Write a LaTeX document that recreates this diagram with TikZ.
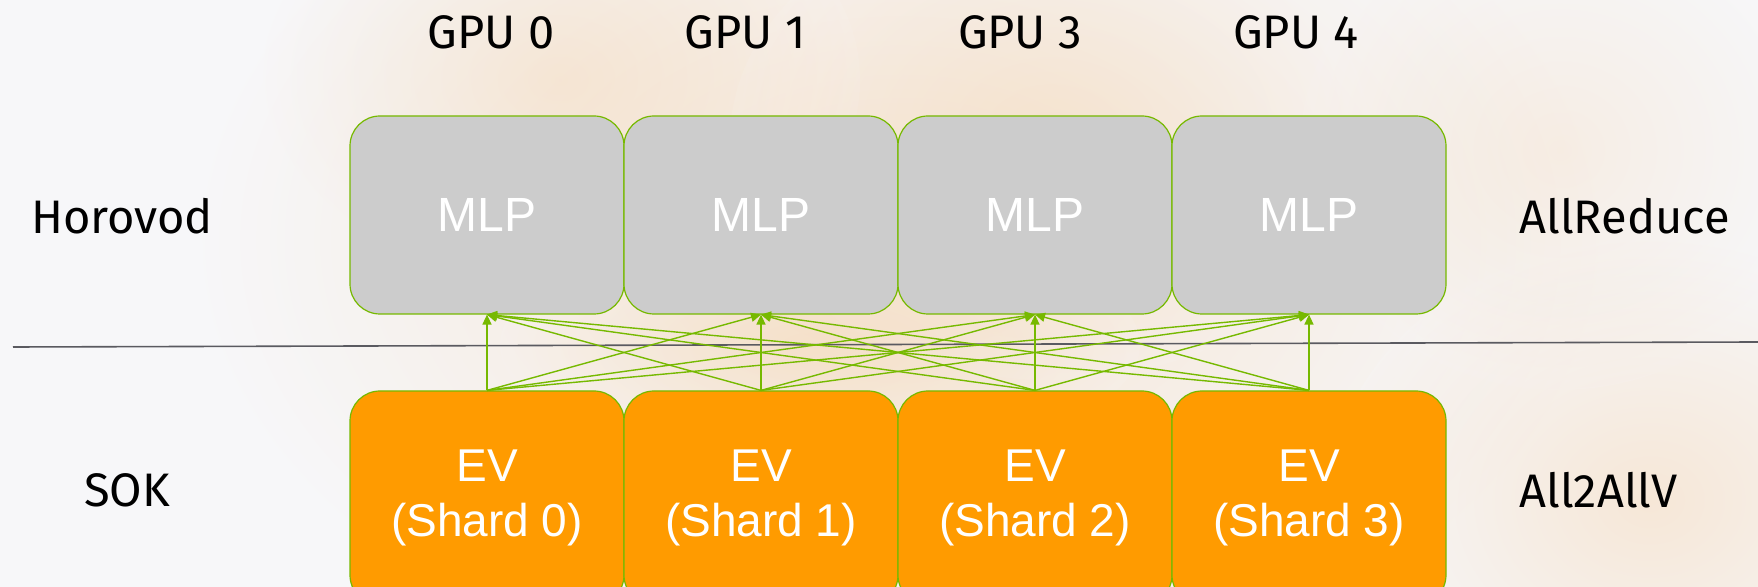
\documentclass[tikz,border=0pt]{standalone}
\usepackage{fontspec}
\setmainfont{Fira Sans}
\newfontfamily\boxfont{Liberation Sans}
\usetikzlibrary{arrows.meta}
\definecolor{bgc}{HTML}{F7F7F9}
\definecolor{nvgreen}{HTML}{76B900}
\definecolor{mlpgray}{HTML}{CCCCCC}
\definecolor{evorange}{HTML}{FF9B00}
\definecolor{sepgray}{HTML}{5A5A60}
\definecolor{blob}{HTML}{F2A850}
\tikzset{
  mlpbox/.style={draw=nvgreen, line width=0.6pt, fill=mlpgray, rounded corners=15pt,
    minimum width=137pt, minimum height=99pt, inner sep=0pt,
    text=white, font=\boxfont\fontsize{24}{28}\selectfont},
  evbox/.style={draw=nvgreen, line width=0.6pt, fill=evorange, rounded corners=15pt,
    minimum width=137pt, minimum height=107pt, inner sep=0pt, align=center,
    text=white, font=\boxfont\fontsize{23}{27.5}\selectfont},
  lbl/.style={text=black, font=\fontsize{23.5}{27}\selectfont, inner sep=0pt},
  link/.style={draw=nvgreen, line width=0.7pt, -{Triangle[length=5pt,width=4.5pt]}},
  sep/.style={draw=sepgray, line width=0.8pt},
  glow/.style={inner color=blob, outer color=bgc},
}
\begin{document}
\begin{tikzpicture}[x=0.5pt,y=-0.5pt]
\useasboundingbox (0,0) rectangle (1758,587);
\clip (0,0) rectangle (1758,587);
\fill[bgc] (0,0) rectangle (1758,587);
% faint blurred background photo
\shade[glow, opacity=0.22] (900,240) ellipse [x radius=700, y radius=460];
\shade[glow, opacity=0.14] (560,80) ellipse [x radius=300, y radius=220];
\shade[glow, opacity=0.12] (1050,140) ellipse [x radius=320, y radius=240];
\shade[glow, opacity=0.20] (1650,500) ellipse [x radius=320, y radius=260];
\shade[glow, opacity=0.12] (1560,150) ellipse [x radius=260, y radius=240];
\shade[glow, opacity=0.14] (820,345) ellipse [x radius=320, y radius=120];

% boxes
\node[mlpbox] (m0) at (487,215) {MLP};
\node[mlpbox] (m1) at (761,215) {MLP};
\node[mlpbox] (m2) at (1035,215) {MLP};
\node[mlpbox] (m3) at (1309,215) {MLP};
\node[evbox] (e0) at (487,498) {EV\\(Shard 0)};
\node[evbox] (e1) at (761,498) {EV\\(Shard 1)};
\node[evbox] (e2) at (1035,498) {EV\\(Shard 2)};
\node[evbox] (e3) at (1309,498) {EV\\(Shard 3)};

% GPU labels
\node[lbl] (g0) at (491,32) {GPU 0};
\node[lbl] (g1) at (745,32) {GPU 1};
\node[lbl] (g3) at (1020,32) {GPU 3};
\node[lbl] (g4) at (1296,32) {GPU 4};

% side labels
\node[lbl] (hv) at (122,216) {Horovod};
\node[lbl] (sok) at (127,490) {SOK};
\node[lbl, anchor=west] (ar) at (1519,216) {AllReduce};
\node[lbl, anchor=west] (aa) at (1519,490) {All2AllV};

% separator
\coordinate (sl) at (13,347);
\coordinate (sr) at (1758,342);
\draw[sep] (sl) -- (sr);

% all-to-all links
\foreach \i in {0,1,2,3}{
  \foreach \j in {0,1,2,3}{
    \draw[link] (e\i.north) -- (m\j.south);
  }
}
\end{tikzpicture}
\end{document}
